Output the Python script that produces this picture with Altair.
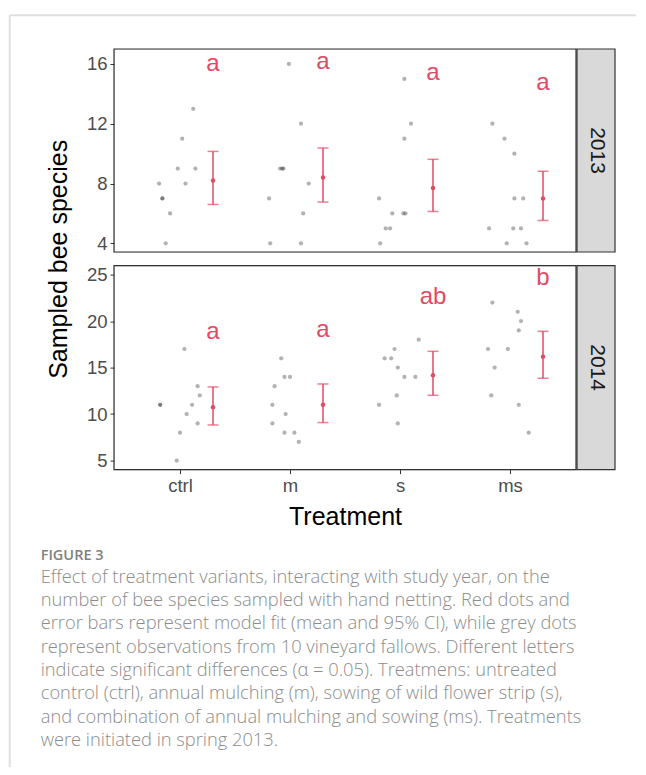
import altair as alt
import pandas as pd

# ---------------- data ----------------
treatments = ["ctrl", "m", "s", "ms"]

# grey dots: observed numbers of bee species per fallow, with horizontal jitter (treatment units)
obs_2013_ctrl = [13, 11, 9, 9, 8, 8, 7, 7, 6, 4]
jit_2013_ctrl = [0.12, 0.02, -0.02, 0.14, -0.19, 0.05, -0.16, -0.16, -0.09, -0.13]
obs_2013_m = [16, 12, 9, 9, 9, 8, 7, 6, 4, 4]
jit_2013_m = [-0.01, 0.10, -0.09, -0.06, -0.07, 0.17, -0.19, 0.12, -0.18, 0.10]
obs_2013_s = [15, 12, 11, 7, 6, 6, 6, 5, 5, 4]
jit_2013_s = [0.04, 0.10, 0.04, -0.19, -0.07, 0.03, 0.05, -0.13, -0.09, -0.18]
obs_2013_ms = [12, 11, 10, 7, 7, 5, 5, 5, 4, 4]
jit_2013_ms = [-0.16, -0.05, 0.04, 0.04, 0.12, -0.19, 0.03, 0.10, -0.03, 0.15]

obs_2014_ctrl = [17, 13, 12, 11, 11, 11, 10, 9, 8, 5]
jit_2014_ctrl = [0.04, 0.16, 0.18, 0.11, -0.18, -0.18, 0.06, 0.16, 0.00, -0.03]
obs_2014_m = [16, 14, 14, 13, 11, 10, 9, 8, 8, 7]
jit_2014_m = [-0.08, -0.05, 0.00, -0.14, -0.16, -0.04, -0.16, -0.05, 0.04, 0.08]
obs_2014_s = [18, 17, 16, 16, 15, 14, 14, 12, 11, 9]
jit_2014_s = [0.17, -0.05, -0.14, -0.08, -0.02, 0.04, 0.14, -0.03, -0.19, -0.02]
obs_2014_ms = [22, 21, 20, 19, 17, 17, 15, 12, 11, 8]
jit_2014_ms = [-0.16, 0.07, 0.10, 0.08, -0.20, -0.02, -0.14, -0.17, 0.08, 0.17]

# red: model fit (mean and 95% CI) and significance letters
fit_mean_2013 = [8.2, 8.4, 7.7, 7.0]
fit_lo_2013 = [6.6, 6.76, 6.13, 5.53]
fit_hi_2013 = [10.15, 10.38, 9.62, 8.82]
letters_2013 = ["a", "a", "a", "a"]
letter_y_2013 = [16.0, 16.1, 15.4, 14.7]

fit_mean_2014 = [10.73, 11.0, 14.17, 16.18]
fit_lo_2014 = [8.83, 9.09, 12.02, 13.85]
fit_hi_2014 = [12.92, 13.24, 16.75, 18.9]
letters_2014 = ["a", "a", "ab", "b"]
letter_y_2014 = [18.8, 19.0, 22.6, 24.6]

y_ticks_2013 = [4, 8, 12, 16]
y_ticks_2014 = [5, 10, 15, 20, 25]

caption_head = "FIGURE 3"
caption_lines = [
    "Effect of treatment variants, interacting with study year, on the",
    "number of bee species sampled with hand netting. Red dots and",
    "error bars represent model fit (mean and 95% CI), while grey dots",
    "represent observations from 10 vineyard fallows. Different letters",
    "indicate significant differences (\u03b1 = 0.05). Treatmens: untreated",
    "control (ctrl), annual mulching (m), sowing of wild flower strip (s),",
    "and combination of annual mulching and sowing (ms). Treatments",
    "were initiated in spring 2013.",
]

# ---------------- tables ----------------
obs_sets = {
    "2013": [(obs_2013_ctrl, jit_2013_ctrl), (obs_2013_m, jit_2013_m),
             (obs_2013_s, jit_2013_s), (obs_2013_ms, jit_2013_ms)],
    "2014": [(obs_2014_ctrl, jit_2014_ctrl), (obs_2014_m, jit_2014_m),
             (obs_2014_s, jit_2014_s), (obs_2014_ms, jit_2014_ms)],
}
fit_sets = {
    "2013": (fit_mean_2013, fit_lo_2013, fit_hi_2013, letters_2013, letter_y_2013),
    "2014": (fit_mean_2014, fit_lo_2014, fit_hi_2014, letters_2014, letter_y_2014),
}


def obs_df(year):
    rows = []
    for i, (vals, jits) in enumerate(obs_sets[year]):
        for v, j in zip(vals, jits):
            rows.append({"treatment": treatments[i], "idx": i + 1, "jit": j, "value": v})
    return pd.DataFrame(rows)


def fit_df(year):
    mean, lo, hi, let, ly = fit_sets[year]
    return pd.DataFrame({"treatment": treatments, "idx": list(range(1, 5)),
                         "mean": mean, "lo": lo, "hi": hi, "letter": let, "ly": ly})


RED = "#E24A64"
FONT = "Liberation Sans"
FRAME = "#333333"
W = 462
STRIP_W = 39
one = pd.DataFrame({"k": [0]})
label_expr = "[''," + ",".join("'%s'" % t for t in treatments) + "][datum.value]"
xscale = alt.Scale(domain=[0.4, 4.6], nice=False, zero=False)


def panel(year, ydomain, yticks, height, bottom):
    yscale = alt.Scale(domain=ydomain, nice=False, zero=False)
    yaxis = alt.Axis(values=yticks, title=None, domain=False, grid=False, tickSize=4,
                     tickColor=FRAME, labelFontSize=18.5, labelColor="#4d4d4d",
                     labelFont=FONT, labelPadding=3)
    if bottom:
        xaxis = alt.Axis(values=[1, 2, 3, 4], labelExpr=label_expr, title="Treatment",
                         domain=False, grid=False, tickSize=4, tickColor=FRAME,
                         labelFontSize=18.5, labelColor="#4d4d4d", labelFont=FONT,
                         labelPadding=3, titleFontSize=25, titleFont=FONT,
                         titleFontWeight="normal", titleColor="black", titlePadding=9)
    else:
        xaxis = None

    pts = alt.Chart(obs_df(year)).transform_calculate(
        xpos="datum.idx + datum.jit"
    ).mark_circle(size=18, color="black", opacity=0.3).encode(
        x=alt.X("xpos:Q", scale=xscale, axis=xaxis),
        y=alt.Y("value:Q", scale=yscale, axis=yaxis),
    )
    fbase = alt.Chart(fit_df(year)).transform_calculate(xpos="datum.idx + 0.3")
    bar = fbase.mark_rule(color=RED, strokeWidth=1.5).encode(
        x=alt.X("xpos:Q", scale=xscale), y=alt.Y("lo:Q", scale=yscale), y2="hi:Q")
    cap_lo = fbase.mark_tick(color=RED, orient="horizontal", size=11, thickness=1.5).encode(
        x=alt.X("xpos:Q", scale=xscale), y=alt.Y("lo:Q", scale=yscale))
    cap_hi = fbase.mark_tick(color=RED, orient="horizontal", size=11, thickness=1.5).encode(
        x=alt.X("xpos:Q", scale=xscale), y=alt.Y("hi:Q", scale=yscale))
    mean = fbase.mark_circle(color=RED, size=20, opacity=1).encode(
        x=alt.X("xpos:Q", scale=xscale), y=alt.Y("mean:Q", scale=yscale))
    lets = fbase.mark_text(color=RED, fontSize=24, font=FONT, baseline="middle").encode(
        x=alt.X("xpos:Q", scale=xscale), y=alt.Y("ly:Q", scale=yscale), text="letter:N")
    frame = alt.Chart(one).mark_rect(fill=None, stroke=FRAME, strokeWidth=1.2).encode(
        x=alt.value(0), x2=alt.value(W), y=alt.value(0), y2=alt.value(height))
    strip = alt.Chart(one).mark_rect(fill="#d9d9d9", stroke=FRAME, strokeWidth=1.2).encode(
        x=alt.value(W + 1), x2=alt.value(W + STRIP_W), y=alt.value(0), y2=alt.value(height))
    strip_txt = alt.Chart(one).mark_text(angle=90, fontSize=21, font=FONT, color="#1a1a1a",
                                         baseline="middle", align="center").encode(
        x=alt.value(W + 1 + STRIP_W / 2), y=alt.value(height / 2), text=alt.value(year))
    layers = [pts, bar, cap_lo, cap_hi, mean, lets, frame, strip, strip_txt]

    if not bottom:
        # light card border of the figure page
        top_border = alt.Chart(one).mark_rule(color="#e0e0e0", strokeWidth=2).encode(
            x=alt.value(-104.3), x2=alt.value(522), y=alt.value(-33.7))
        left_border = alt.Chart(one).mark_rule(color="#e0e0e0", strokeWidth=2).encode(
            x=alt.value(-104.3), y=alt.value(-33.7), y2=alt.value(718))
        layers = [top_border, left_border] + layers
    else:
        ytitle = alt.Chart(one).mark_text(angle=270, fontSize=25, font=FONT, color="black",
                                          baseline="middle", align="center").encode(
            x=alt.value(-55.3), y=alt.value(-6.3), text=alt.value("Sampled bee species"))
        head = alt.Chart(one).mark_text(fontSize=14.5, font="Open Sans", fontWeight=600,
                                        color="#808080", align="left",
                                        baseline="alphabetic").encode(
            x=alt.value(-73.3), y=alt.value(294.7), text=alt.value(caption_head))
        body = alt.Chart(one).mark_text(fontSize=18.3, font="Open Sans", fontWeight=300,
                                        color="#8c8c8c", align="left", baseline="alphabetic",
                                        lineHeight=23.3, text=caption_lines).encode(
            x=alt.value(-73.3), y=alt.value(317.2))
        layers = layers + [ytitle, head, body]

    return alt.layer(*layers).properties(width=W, height=height)


top = panel("2013", [3.42, 17.0], y_ticks_2013, 203, False)
bot = panel("2014", [4.03, 25.97], y_ticks_2014, 204, True)

chart = alt.vconcat(top, bot, spacing=13.6, bounds="flush").properties(
    padding={"left": 0, "top": 5, "right": 0, "bottom": 0}
).configure_view(stroke=None).configure(background="white")

chart.save("out.html", embed_options={"renderer": "svg", "actions": False})
